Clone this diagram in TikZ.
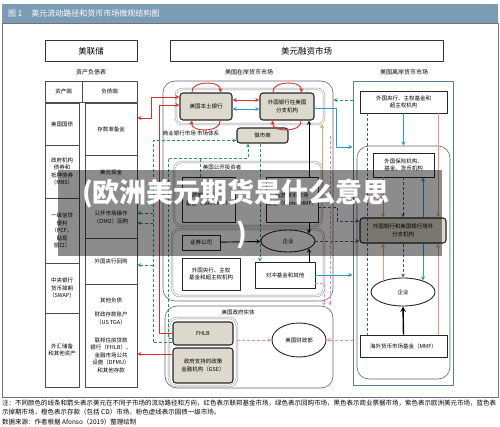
\documentclass[tikz,border=0pt]{standalone}
\usepackage{fontspec}
\usepackage{graphicx}
\setmainfont{Noto Sans CJK SC}
\usetikzlibrary{shapes.geometric,calc}
\definecolor{barblue}{RGB}{124,156,182}
\definecolor{bankfill}{RGB}{221,218,205}
\definecolor{offline}{RGB}{93,125,150}
\definecolor{frd}{RGB}{214,48,45}
\definecolor{fgr}{RGB}{46,150,90}
\definecolor{fbl}{RGB}{42,155,209}
\definecolor{forg}{RGB}{226,160,112}
\definecolor{fpk}{RGB}{229,140,180}
\definecolor{fpu}{RGB}{88,86,120}
\newcommand{\bsz}{\fontsize{5.5}{7.5}\selectfont}
\begin{document}
\begin{tikzpicture}[x=1pt,y=-1pt,>=stealth,line join=round,
    sz/.style n args={2}{minimum width=#1,minimum height=#2},
    txt/.style={align=center,font=\bsz,inner sep=0},
    bs/.style={txt,draw=black!70,line width=0.6pt},
    topbox/.style={draw=black!80,line width=1pt,inner sep=0,font=\fontsize{8.5}{10}\selectfont},
    lbl/.style={font=\fontsize{6}{7}\selectfont,inner sep=0},
    ctr/.style={draw=black!60,line width=0.6pt,inner sep=0},
    grp/.style={draw=black!45,line width=0.45pt,double=white,double distance=1.3pt,inner sep=0},
    bank/.style={txt,draw=black!85,line width=1.1pt,rounded corners=3pt,fill=bankfill},
    wbox/.style={txt,draw=black!85,line width=0.9pt,fill=white},
    ell/.style={txt,ellipse,draw=black!85,line width=0.9pt,fill=white},
    rd/.style={frd,line width=0.9pt},
    bl/.style={fbl,line width=0.9pt},
    gr/.style={fgr,line width=0.8pt,dash pattern=on 3pt off 2pt},
    bk/.style={black,line width=0.9pt},
    og/.style={forg,line width=0.9pt},
    pu/.style={fpu,line width=0.8pt,dash pattern=on 3pt off 2pt},
    pk/.style={fpk,line width=0.8pt,dash pattern=on 3pt off 2pt},
    note/.style={font=\fontsize{6.5}{8}\selectfont,inner sep=0,anchor=base west}]
\useasboundingbox (0,0) rectangle (500,427);
%\draw[gray!30] (0,0) grid[step=50] (500,427);
\fill[barblue] (2,4) rectangle (498,23);
\node[anchor=west,text=white,inner sep=0,font=\fontsize{8}{9}\selectfont] (ttl) at (8,13.5) {图 1\hspace{9pt}美元流动路径和货币市场微观结构图};
\draw[black!55,line width=0.6pt] (2,23) rectangle (498,397);

\node[topbox,sz={92}{21}] (fed) at (91,51.5) {美联储};
\node[topbox,sz={273}{21}] (mkt) at (306.5,51.5) {美元融资市场};
\node[lbl] (lbs) at (91,72) {资产负债表};
\node[lbl] (lon) at (249,72) {美国在岸货币市场};
\node[lbl] (loff) at (404,72) {美国离岸货币市场};

% balance sheet
\node[bs,sz={37}{21}] (ha) at (63.5,91.5) {资产端};
\node[bs,sz={55}{21}] (hl) at (109.5,91.5) {负债端};
\node[bs,sz={34}{42}] (a1) at (62,124) {美国国债};
\node[bs,sz={34}{53}] (a2) at (62,171.5) {政府机构\\债券和\\抵押债券\\（MBS）};
\node[bs,sz={34}{65}] (a3) at (62,230.5) {一级信贷\\便利\\（PCF、\\贴现\\窗口）};
\node[bs,sz={34}{50}] (a4) at (62,288) {中央银行\\货币掉期\\（SWAP）};
\node[bs,sz={34}{74}] (a5) at (62,350) {外汇储备\\和其他资产};
\node[bs,sz={52}{52}] (l1) at (111,129) {存款准备金};
\node[bs,sz={52}{83}] (l2) at (111,196.5) {};
\node[txt] (l2a) at (111,172) {美元现金};
\node[txt] (l2b) at (111,217.5) {公开市场操作\\（OMO）回购};
\node[bs,sz={52}{46}] (l3) at (111,261) {外国央行回购};
\node[bs,sz={52}{103}] (l4) at (111,335.5) {};
\node[txt] (l4a) at (111,300) {其他负债};
\node[txt] (l4b) at (111,318.5) {财政存款账户\\（US TGA）};
\node[txt] (l4c) at (111,355) {联邦住房贷款\\银行（FHLB）、\\金融市场公共\\设施（DFMU）\\和其他存款};

% onshore
\node[ctr,rounded corners=12pt,sz={170}{220}] (onc) at (248,191) {};
\node[grp,rounded corners=6pt,sz={148}{35}] (bkg) at (250,106.5) {};
\node[grp,rounded corners=8pt,sz={148}{64}] (mmfg) at (248,194) {};
\node[grp,rounded corners=8pt,sz={152}{67}] (secg) at (248,262.5) {};
\node[bank,sz={52}{27}] (usb) at (206,106.5) {美国本土银行};
\node[bank,sz={54}{27}] (fbus) at (287,106.5) {外国银行在美国\\分支机构};
\node[lbl,font=\bsz] (lcb) at (191,133) {商业银行市场 市场体系};
\node[bank,sz={51}{15}] (dealer) at (262.5,135.5) {做市商};
\node[lbl,font=\bsz] (lmf) at (222,167) {美国公开投资者};
\node[wbox,sz={53}{45}] (gov) at (208.5,199.5) {政府货币市场\\基金（Gov MMF）};
\node[wbox,sz={52}{45}] (prime) at (292,199.5) {优质货币市场\\基金（Prime MMF）};
\node[wbox,sz={38}{15}] (sec) at (201,242.5) {证券公司};
\node[ell,sz={54}{22}] (corp1) at (288,241) {企业};
\node[wbox,sz={58}{32}] (fcb1) at (211,274) {外国央行、主权\\基金和超主权机构};
\node[wbox,sz={60}{26}] (hedge) at (285,275) {对冲基金和其他};

% government
\node[ctr,rounded corners=12pt,sz={168}{82}] (govc) at (249,347) {};
\node[lbl,font=\bsz] (lgv) at (238,312) {美国政府实体};
\node[grp,rounded corners=8pt,sz={68}{68}] (gseg) at (203,352) {};
\node[bank,sz={60}{23}] (fhlb) at (203,333.5) {FHLB};
\node[bank,sz={60}{35}] (gse) at (203,365.5) {政府支持的政策\\金融机构（GSE）};
\node[ell,sz={54}{34}] (treas) at (299,340) {美国财政部};

% offshore
\node[draw=offline,line width=0.9pt,inner sep=0,sz={100}{304}] (offc) at (403,233) {};
\node[ctr,rounded corners=12pt,sz={93}{233}] (offi) at (403.5,262.5) {};
\node[wbox,sz={87}{22}] (fcb2) at (403.5,102) {外国央行、主权基金和\\超主权机构};
\node[wbox,sz={61}{24}] (fins) at (403.5,165) {外国保险机构、\\基金、货币机构};
\node[bank,sz={86}{25}] (fbo) at (403,230.5) {外国银行和美国银行境外\\分支机构};
\node[ell,sz={64}{28}] (corp2) at (403,292) {企业};
\node[wbox,sz={87}{22}] (ommf) at (403.5,346) {海外货币市场基金（MMF）};

\coordinate (xk) at (309,0);
\coordinate (xo) at (322,0);
\coordinate (xg) at (248,0);
\coordinate (xh) at (260,0);
\coordinate (xp2) at (324,0);
\coordinate (xb) at (423,0);
\coordinate (xo2) at (383,0);
\coordinate (xo3) at (438,0);
\coordinate (xu1) at (367,0);
\coordinate (xu2) at (403,0);
\coordinate (yG) at (0,100);
\coordinate (g1) at (153,140.5);
\coordinate (g2) at (168,158);
\coordinate (p1) at (330,136);

% federal funds
\draw[rd,<->] ($(l1.east)+(0,-11)$) -| ($(usb.west)+(-28,-9.5)$) -- ($(usb.west)+(0,-9.5)$);
\draw[rd,->] (fhlb.west) -| ($(usb.west)+(-20,-1.5)$) -- ($(usb.west)+(0,-1.5)$);
\draw[rd,->] ($(gse.west)+(0,-11.5)$) -- ($(l4.east)+(0,18.5)$);
\draw[rd,<->] ($(usb.east)+(0,-6.5)$) -- ($(fbus.west)+(0,-6.5)$);
\foreach \b in {usb,fbus}{
  \draw[rd,->] ($(\b.north)+(-14,0)$) .. controls +(-2,-12) and +(2,-12) .. ($(\b.north)+(14,0)$);
  \draw[rd,->] ($(\b.south)+(14,0)$) .. controls +(2,12) and +(-2,12) .. ($(\b.south)+(-14,0)$);
}
% swaps
\draw[bl,<->] ($(usb.east)+(0,2.5)$) -- ($(fbus.west)+(0,2.5)$);
\draw[bl,->] ($(fbus.east)+(0,1.5)$) -| ($(offc.west)+(-16,-86)$) -- ($(offc.west)+(0,-86)$);
\draw[bl,->] (fcb2.south) -- (fcb2.south |- offi.north);
\draw[bl,->] (fbo.north -| xb) -- (fins.south -| xb);
\draw[bl,->] (fbo.south -| xb) -- ($(corp2.north -| xb)+(0,3)$);
\draw[bl,->] (hedge.east) -- (hedge.east -| offc.west);
% repo
\draw[gr,->] ($(fhlb.west)+(0,9)$) -| (g1) -- ($(dealer.west)+(0,5)$);
\draw[gr,->] ($(l2.east)+(16,16.5)$) -- ++(-16,0);
\draw[gr,->] ($(l2.east)+(16,26.5)$) -- ++(-16,0);
\draw[gr,->] ($(l3.east)+(16,4)$) -- ++(-16,0);
\draw[gr,->] ($(fhlb.west)+(0,4.5)$) -| (g2) -| (dealer.south -| xg);
\draw[gr] ($(gov.north)+(-8.5,0)$) -- ++(0,-19);
\draw[gr,->] (dealer.south -| xh) -- (hedge.north -| xh);
\draw[gr,->] (offc.west |- yG) -- (onc.east |- yG);
% commercial paper
\draw[bk,->] (prime.north -| xk) -- (fbus.south -| xk);
\draw[bk,->] (prime.south -| xk) -- ($(corp1.north -| xk)+(0,4)$);
\draw[bk,->] (hedge.north -| xk) -- ($(corp1.south -| xk)+(0,-4)$);
\draw[bk,->] (sec) -- (corp1);
\draw[bk,line width=1.4pt,->] (ommf.north) -- (corp2.south);
% deposits
\draw[og,->] ($(prime.east)+(0,-10)$) -| (bkg.south -| xo);
\draw[og,->] (fins.south -| xo2) -- (fbo.north -| xo2);
\draw[og,->] ($(corp2.north -| xo2)+(0,3.5)$) -- (fbo.south -| xo2);
\draw[og,->] (fcb2.south -| xo3) -- (fbo.north -| xo3);
\draw[og,->] (ommf.north -| xo3) -- (fbo.south -| xo3);
% eurodollar
\draw[pu] (fcb2.south -| xu1) -- (ommf.north -| xu1);
\draw[pu,->] (fins.south -| xu2) -- (fbo.north -| xu2);
\draw[pu,->] (fbo.south -| xu2) -- (corp2.north -| xu2);
\draw[pu,->] ($(prime.east)+(0,8)$) -| ($(fbo.west)+(-22,-9.5)$) -- ($(fbo.west)+(0,-9.5)$);
\draw[pu,->] (corp1.east) -- (corp1.east -| fbo.west);
% treasury primary
\draw[pk,->] (p1) -- (govc.north -| p1);
\draw[pk,->] ($(hedge.east)+(0,8)$) -| (govc.north -| xp2);
\draw[pk,->] (treas.west -| gseg.east) -- (treas.west);
\draw[pk,->] (treas.east -| offc.west) -- (treas.east);

\fill[black,opacity=0.45] (58,170) rectangle (442,256);
\node[text=white,inner sep=0,font=\fontsize{27}{30}\bfseries] (wm1) at (236,194) {(欧洲美元期货是什么意思};
\node[text=white,inner sep=0,font=\fontsize{27}{30}\bfseries] (wm2) at (242,235) {)};

\node[note] (n1) at (2,405.5) {\resizebox{494pt}{!}{注：不同颜色的线条和箭头表示美元在不同子市场的流动路径和方向，红色表示联邦基金市场，绿色表示回购市场，黑色表示商业票据市场，紫色表示欧洲美元市场，蓝色表}};
\node[note] (n2) at (2,414.5) {示掉期市场，橙色表示存款（包括 CD）市场，粉色虚线表示国债一级市场。};
\node[note] (n3) at (2,424.5) {数据来源：作者根据 Afonso（2019）整理绘制};
\end{tikzpicture}
\end{document}
